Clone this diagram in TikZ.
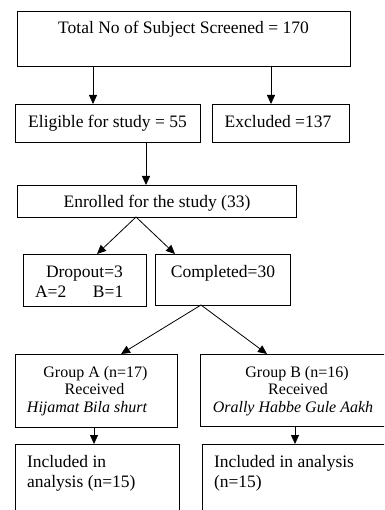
\documentclass[tikz,border=0pt]{standalone}
\usepackage{fontspec}
\setmainfont{Liberation Serif}
\usetikzlibrary{arrows.meta}
\newcommand{\panel}[4]{\begin{minipage}[t][#2][t]{#1}\setlength{\parskip}{0pt}\setlength{\parindent}{0pt}\vspace*{\dimexpr#3-\ht\strutbox\relax}#4\end{minipage}}
\newcommand{\ctr}[2]{\makebox[\linewidth][l]{\makebox[#1][c]{\strut#2}}\par}
\newcommand{\lft}[2]{\makebox[\linewidth][l]{\hspace*{#1}\strut#2}\par}
\tikzset{
  bx/.style={draw=black, line width=0.9pt, inner sep=0pt, outer sep=0pt, anchor=north west,
    font=\fontsize{17.5}{20.5}\selectfont},
  gbx/.style={bx, font=\fontsize{16}{17.5}\selectfont},
  arr/.style={-{Triangle[length=9pt,width=8pt]}, line width=0.8pt, draw=black},
  ln/.style={line width=0.8pt, draw=black}
}
\begin{document}
\begin{tikzpicture}[x=1pt,y=-1pt]
\useasboundingbox (0,0) rectangle (384,510);
\clip (0,0) rectangle (384,510);
\node[bx] (tot) at (17,11) {\panel{333pt}{55pt}{23pt}{\ctr{333pt}{Total No of Subject Screened = 170}}};
\node[bx] (elig) at (15,104) {\panel{185pt}{38pt}{23.5pt}{\ctr{185pt}{Eligible for study = 55}}};
\node[bx] (excl) at (212,104) {\panel{137pt}{38pt}{23.5pt}{\ctr{132pt}{Excluded =137}}};
\node[bx] (enr) at (17,185) {\panel{279pt}{32pt}{22.3pt}{\ctr{280pt}{Enrolled for the study (33)}}};
\node[bx] (drop) at (23,254) {\panel{123pt}{52pt}{23pt}{\ctr{123pt}{Dropout=3}\lft{12pt}{\rlap{A=2}\hspace*{58pt}B=1}}};
\node[bx] (comp) at (155,254) {\panel{135pt}{51pt}{23pt}{\ctr{136pt}{Completed=30}}};
\node[gbx] (grpA) at (15,354) {\panel{162pt}{73pt}{23pt}{\ctr{161pt}{Group A (n=17)}\ctr{159pt}{Received}\ctr{144pt}{\itshape Hijamat Bila shurt}}};
\node[gbx] (grpB) at (200,354) {\panel{190pt}{72pt}{23pt}{\ctr{194pt}{Group B (n=16)}\ctr{196pt}{Received}\ctr{186pt}{\itshape Orally Habbe Gule Aakh}}};
\node[bx] (incA) at (15,444) {\panel{164pt}{80pt}{23pt}{\lft{12pt}{Included in}\lft{12pt}{analysis (n=15)}}};
\node[bx] (incB) at (202,444) {\panel{190pt}{80pt}{23pt}{\lft{12pt}{Included in analysis}\lft{12pt}{(n=15)}}};
\coordinate (b1) at ([xshift=119pt]enr.south west);
\coordinate (b2) at ([xshift=46pt]comp.south west);
\draw[arr] ([xshift=76pt]tot.south west) -- ([xshift=78pt]elig.north west);
\draw[arr] ([xshift=254pt]tot.south west) -- ([xshift=59pt]excl.north west);
\draw[arr] ([xshift=131pt]elig.south west) -- ([xshift=129pt]enr.north west);
\draw[arr] (b1) -- ([xshift=74pt]drop.north west);
\draw[arr] (b1) -- ([xshift=20pt]comp.north west);
\draw[arr] (b2) -- ([xshift=106pt]grpA.north west);
\draw[arr] (b2) -- ([xshift=67pt]grpB.north west);
\draw[arr] ([xshift=79pt]grpA.south west) -- ([xshift=79pt]incA.north west);
\draw[arr] ([xshift=95pt]grpB.south west) -- ([xshift=93pt]incB.north west);
\end{tikzpicture}
\end{document}
